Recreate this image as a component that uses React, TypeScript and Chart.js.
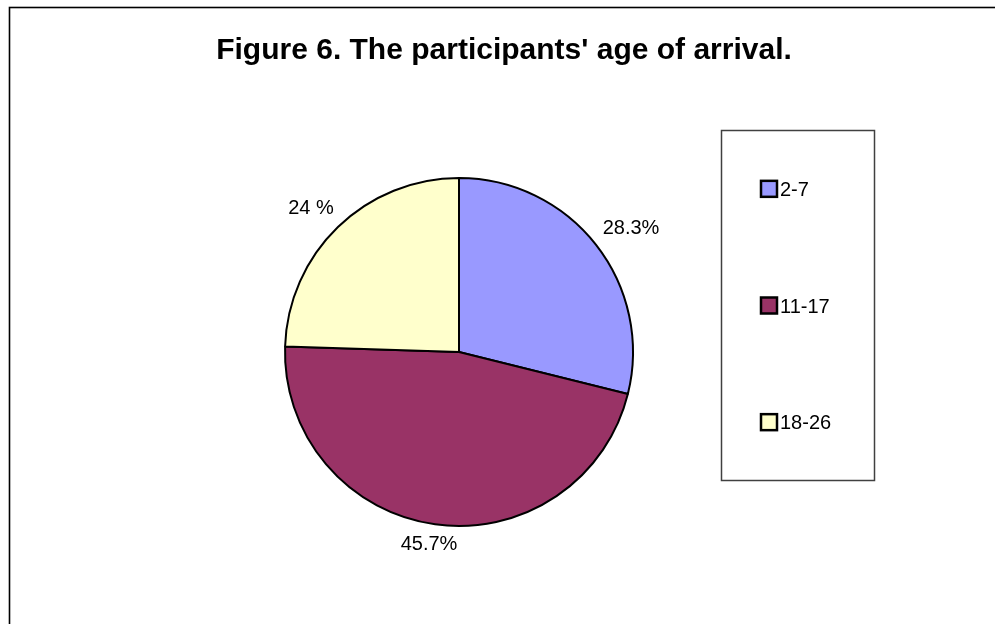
import { useEffect, useRef } from "react";
import { Chart, registerables } from "chart.js";

Chart.register(...registerables);

// Age-of-arrival groups and their shares (percent)
const categories = ["2-7", "11-17", "18-26"];
const shares = [28.3, 45.7, 24];
const shareLabels = ["28.3%", "45.7%", "24 %"];
const sliceColors = ["#9999FF", "#993366", "#FFFFCC"];
const chartTitle = "Figure 6. The participants' age of arrival.";

const FONT = '"Liberation Sans", Arial, Helvetica, sans-serif';
const CAP = 0.716; // cap height of Arial relative to font size

const decorPlugin = {
  id: "decor",
  beforeDraw(chart: any) {
    const ctx = chart.ctx as CanvasRenderingContext2D;
    ctx.save();
    ctx.fillStyle = "#ffffff";
    ctx.fillRect(0, 0, chart.width, chart.height);
    // outer frame (continues past the right and bottom edges)
    ctx.strokeStyle = "#000000";
    ctx.lineWidth = 1.6;
    ctx.strokeRect(9.5, 7.5, chart.width + 40, chart.height + 40);
    // title
    ctx.fillStyle = "#000000";
    ctx.font = `bold 30px ${FONT}`;
    ctx.textAlign = "center";
    ctx.textBaseline = "alphabetic";
    ctx.fillText(chartTitle, 504, 58.5);
    ctx.restore();
  },
  afterDatasetsDraw(chart: any) {
    const ctx = chart.ctx as CanvasRenderingContext2D;
    const meta = chart.getDatasetMeta(0);
    ctx.save();
    // percentage labels outside each slice
    const size = 20;
    ctx.font = `${size}px ${FONT}`;
    ctx.fillStyle = "#000000";
    ctx.textAlign = "center";
    ctx.textBaseline = "alphabetic";
    meta.data.forEach((arc: any, i: number) => {
      const { x, y, startAngle, endAngle, outerRadius } = arc.getProps(
        ["x", "y", "startAngle", "endAngle", "outerRadius"],
        true
      );
      const mid = (startAngle + endAngle) / 2;
      const c = Math.cos(mid);
      const s = Math.sin(mid);
      const text = shareLabels[i];
      const w = ctx.measureText(text).width;
      const h = size * CAP;
      const gap = 16;
      const cx = x + (outerRadius + gap) * c + (w / 2) * c;
      const cy = y + (outerRadius + gap) * s + (h / 2) * s - 4;
      ctx.fillText(text, cx, cy + h / 2);
    });

    // legend box
    const box = { left: 721.5, top: 130.5, right: 874.5, bottom: 480.5 };
    ctx.strokeStyle = "#404040";
    ctx.lineWidth = 1.5;
    ctx.strokeRect(box.left, box.top, box.right - box.left, box.bottom - box.top);
    const n = categories.length;
    const step = (box.bottom - box.top) / n;
    ctx.textAlign = "left";
    categories.forEach((label, i) => {
      const cy = box.top + step * (i + 0.5);
      const sq = 16;
      const sx = 761;
      const sy = cy - sq / 2;
      ctx.fillStyle = sliceColors[i];
      ctx.fillRect(sx, sy, sq, sq);
      ctx.strokeStyle = "#000000";
      ctx.lineWidth = 2.5;
      ctx.strokeRect(sx, sy, sq, sq);
      ctx.fillStyle = "#000000";
      ctx.fillText(label, sx + sq + 3, cy + (size * CAP) / 2);
    });
    ctx.restore();
  },
};

export default function App() {
  const canvasRef = useRef<HTMLCanvasElement | null>(null);

  useEffect(() => {
    if (!canvasRef.current) return;
    const chart = new Chart(canvasRef.current, {
      type: "pie",
      data: {
        labels: categories,
        datasets: [
          {
            data: shares,
            backgroundColor: sliceColors,
            borderColor: "#000000",
            borderWidth: 2,
            radius: 174,
          } as any,
        ],
      },
      options: {
        animation: false,
        responsive: true,
        maintainAspectRatio: false,
        layout: {
          padding: { left: 259, right: 336, top: 152, bottom: 72 },
        },
        plugins: {
          legend: { display: false },
          title: { display: false },
          tooltip: { enabled: false },
        },
      },
      plugins: [decorPlugin],
    });
    return () => chart.destroy();
  }, []);

  return (
    <div
      style={{
        position: "fixed",
        left: 0,
        top: 0,
        width: 995,
        height: 624,
        background: "#ffffff",
      }}
    >
      <canvas ref={canvasRef} />
    </div>
  );
}
